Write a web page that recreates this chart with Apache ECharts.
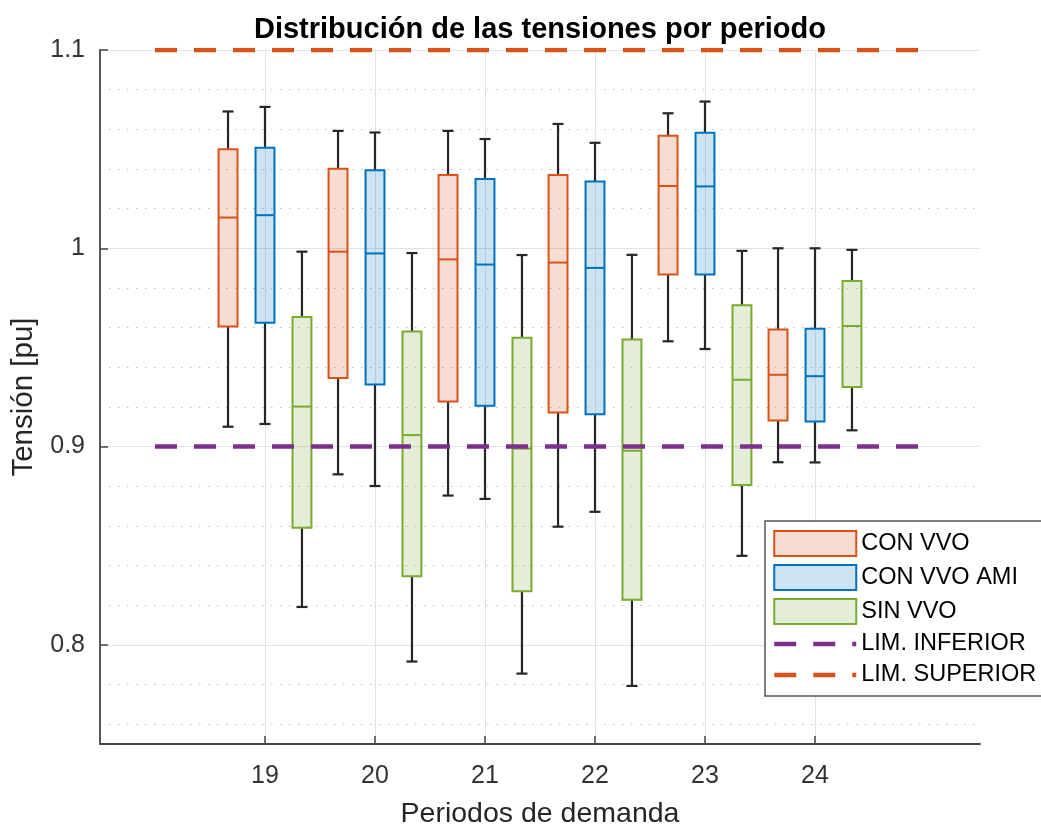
<!DOCTYPE html>
<html><head><meta charset="utf-8">
<script src="https://cdn.jsdelivr.net/npm/echarts@6/dist/echarts.min.js"></script>
<style>html,body{margin:0;padding:0;background:#fff}#c{width:1041px;height:824px}</style>
</head><body><div id="c"></div>
<script>
// ---- data ----
const periods = [19, 20, 21, 22, 23, 24];
// each row: [min, q1, median, q3, max]
const conVVO = [
  [0.910, 0.9605, 1.0155, 1.0500, 1.0690],
  [0.886, 0.9346, 0.9983, 1.0401, 1.0592],
  [0.8753, 0.9227, 0.9944, 1.0369, 1.0592],
  [0.8596, 0.9172, 0.9928, 1.0369, 1.0627],
  [0.9531, 0.9868, 1.0314, 1.0568, 1.0681],
  [0.8921, 0.9131, 0.9362, 0.9591, 1.0000]
];
const conVVOAMI = [
  [0.9114, 0.9624, 1.0167, 1.0507, 1.0713],
  [0.8801, 0.9313, 0.9974, 1.0393, 1.0584],
  [0.8736, 0.9206, 0.9918, 1.0350, 1.0551],
  [0.8671, 0.9163, 0.9901, 1.0337, 1.0532],
  [0.9492, 0.9868, 1.0312, 1.0583, 1.0740],
  [0.8920, 0.9126, 0.9355, 0.9594, 1.0000]
];
const sinVVO = [
  [0.8191, 0.8590, 0.9202, 0.9654, 0.9983],
  [0.7916, 0.8346, 0.9058, 0.9580, 0.9976],
  [0.7855, 0.8270, 0.8990, 0.9549, 0.9966],
  [0.7793, 0.8228, 0.8979, 0.9540, 0.9967],
  [0.8449, 0.8806, 0.9337, 0.9713, 0.9987],
  [0.9082, 0.9300, 0.9608, 0.9835, 0.9992]
];
const limInferior = 0.9;
const limSuperior = 1.1;
const limRange = [18, 25];
const yTicks = [0.8, 0.9, 1.0, 1.1];
const yMinorTicks = [0.76, 0.78, 0.82, 0.84, 0.86, 0.88, 0.92, 0.94, 0.96, 0.98, 1.02, 1.04, 1.06, 1.08];
const seriesNames = ['CON VVO', 'CON VVO AMI', 'SIN VVO', 'LIM. INFERIOR', 'LIM. SUPERIOR'];

// ---- styling ----
const FONT = '"Liberation Sans", Arial, Helvetica, sans-serif';
const GROUP_OFFSET = 0.336, BOX_W = 0.172, CAP_W = 0.1;
const C_OR = '#D95319', C_BL = '#0072BD', C_GR = '#77AC30', C_PU = '#7E2F8E';
const F_OR = 'rgba(217,83,25,0.2)', F_BL = 'rgba(0,114,189,0.2)', F_GR = 'rgba(119,172,48,0.2)';
const WHISK = '#262626';
const DASH = [22, 17];
const NOFILL = { color: 'rgba(0,0,0,0)', borderColor: 'rgba(0,0,0,0)', borderWidth: 0 };

function toData(rows, offset) {
  return rows.map((r, i) => [periods[i] + offset, r[0], r[1], r[2], r[3], r[4]]);
}
function makeRender(edge, fill) {
  return function (params, api) {
    const x = api.value(0);
    const lo = api.coord([x, api.value(1)]);
    const q1 = api.coord([x, api.value(2)]);
    const md = api.coord([x, api.value(3)]);
    const q3 = api.coord([x, api.value(4)]);
    const hi = api.coord([x, api.value(5)]);
    const bw = api.size([BOX_W, 0])[0];
    const cw = api.size([CAP_W, 0])[0];
    const cx = lo[0];
    const ws = { stroke: WHISK, lineWidth: 2.2 };
    return {
      type: 'group',
      children: [
        { type: 'line', shape: { x1: cx, y1: q1[1], x2: cx, y2: lo[1] }, style: ws },
        { type: 'line', shape: { x1: cx - cw / 2, y1: lo[1], x2: cx + cw / 2, y2: lo[1] }, style: ws },
        { type: 'line', shape: { x1: cx, y1: q3[1], x2: cx, y2: hi[1] }, style: ws },
        { type: 'line', shape: { x1: cx - cw / 2, y1: hi[1], x2: cx + cw / 2, y2: hi[1] }, style: ws },
        { type: 'rect', shape: { x: cx - bw / 2, y: q3[1], width: bw, height: q1[1] - q3[1] },
          style: { fill: fill, stroke: edge, lineWidth: 2 } },
        { type: 'line', shape: { x1: cx - bw / 2, y1: md[1], x2: cx + bw / 2, y2: md[1] },
          style: { stroke: edge, lineWidth: 2 } }
      ]
    };
  };
}
function boxSeries(name, rows, offset, edge, fill) {
  return {
    name: name, type: 'custom', z: 2,
    itemStyle: { color: fill, borderColor: edge },
    encode: { x: 0, y: [1, 2, 3, 4, 5] },
    renderItem: makeRender(edge, fill),
    data: toData(rows, offset)
  };
}
function limSeries(name, value, color) {
  return {
    name: name, type: 'line', z: 5, symbol: 'none', silent: true,
    lineStyle: { color: color, width: 4.5, type: DASH },
    itemStyle: { color: color },
    data: [[limRange[0], value], [limRange[1], value]]
  };
}

const chart = echarts.init(document.getElementById('c'), null, { renderer: 'canvas' });
chart.setOption({
  animation: false,
  backgroundColor: '#ffffff',
  textStyle: { fontFamily: FONT },
  title: {
    text: 'Distribución de las tensiones por periodo',
    left: 540, top: 15, textAlign: 'center', padding: 0,
    textStyle: { fontFamily: FONT, fontSize: 29, fontWeight: 'bold', color: '#000' }
  },
  grid: { left: 100, right: 61, top: 50, bottom: 80, containLabel: false, outerBoundsMode: 'none' },
  legend: {
    orient: 'vertical', left: 765, top: 521,
    padding: [9, 8, 9, 7], itemGap: 7, itemWidth: 82, itemHeight: 25,
    backgroundColor: '#fff', borderColor: '#555', borderWidth: 1.5,
    textStyle: { fontFamily: FONT, fontSize: 23.5, color: '#000' },
    lineStyle: { width: 4.5, type: DASH },
    selectedMode: false,
    data: [
      { name: seriesNames[0], icon: 'rect', itemStyle: { color: F_OR, borderColor: C_OR, borderWidth: 2 } },
      { name: seriesNames[1], icon: 'rect', itemStyle: { color: F_BL, borderColor: C_BL, borderWidth: 2 } },
      { name: seriesNames[2], icon: 'rect', itemStyle: { color: F_GR, borderColor: C_GR, borderWidth: 2 } },
      { name: seriesNames[3], itemStyle: NOFILL, lineStyle: { width: 4.5, type: DASH, color: C_PU } },
      { name: seriesNames[4], itemStyle: NOFILL, lineStyle: { width: 4.5, type: DASH, color: C_OR } }
    ]
  },
  xAxis: {
    type: 'value', min: 17.5, max: 25.5,
    name: 'Periodos de demanda', nameLocation: 'middle', nameGap: 56,
    nameTextStyle: { fontFamily: FONT, fontSize: 28.5, color: '#262626' },
    axisLine: { onZero: false, lineStyle: { color: '#444', width: 1.8 } },
    axisTick: { inside: true, length: 8, customValues: periods, lineStyle: { color: '#444', width: 1.5 } },
    axisLabel: { customValues: periods, fontSize: 25, margin: 20, color: '#333' },
    splitLine: { show: true, lineStyle: { color: '#e2e2e2', width: 1 } }
  },
  yAxis: [
    {
      type: 'value', min: 0.75, max: 1.1,
      name: 'Tensión [pu]', nameLocation: 'middle', nameGap: 54, nameRotate: 90,
      nameTextStyle: { fontFamily: FONT, fontSize: 29.5, color: '#262626' },
      axisLine: { show: true, onZero: false, lineStyle: { color: '#444', width: 1.8 } },
      axisTick: { show: true, inside: true, length: 8, customValues: yTicks, lineStyle: { color: '#444', width: 1.5 } },
      axisLabel: { customValues: yTicks, fontSize: 25, margin: 15, color: '#333' },
      splitLine: { show: true, lineStyle: { color: '#e2e2e2', width: 1 } }
    },
    {
      type: 'value', min: 0.75, max: 1.1, position: 'left',
      axisLine: { show: false }, axisLabel: { show: false },
      axisTick: { show: false, customValues: yMinorTicks },
      splitLine: { show: true, lineStyle: { color: '#bdbdbd', width: 1, type: [1.5, 7.5] } }
    }
  ],
  series: [
    boxSeries(seriesNames[0], conVVO, -GROUP_OFFSET, C_OR, F_OR),
    boxSeries(seriesNames[1], conVVOAMI, 0, C_BL, F_BL),
    boxSeries(seriesNames[2], sinVVO, GROUP_OFFSET, C_GR, F_GR),
    limSeries(seriesNames[3], limInferior, C_PU),
    limSeries(seriesNames[4], limSuperior, C_OR)
  ]
});
</script>
</body></html>
